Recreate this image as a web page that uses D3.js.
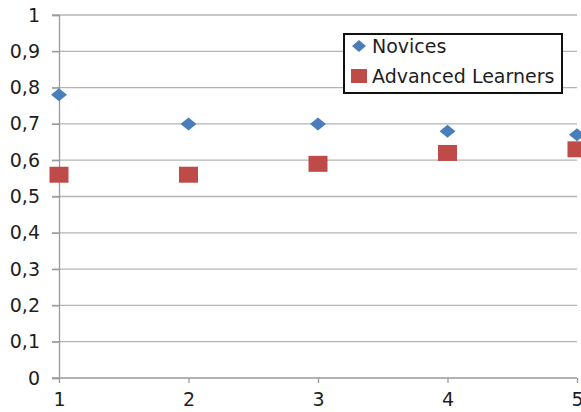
<!DOCTYPE html>
<html><head><meta charset="utf-8">
<script src="https://cdn.jsdelivr.net/npm/d3@7"></script>
<style>body{margin:0;background:#fff}svg{display:block;font-family:"DejaVu Sans",sans-serif}</style>
</head><body><svg id="c" width="581" height="412"></svg>
<script>
const categories = [1, 2, 3, 4, 5];
const novices = [0.78, 0.70, 0.70, 0.68, 0.67];
const advanced = [0.56, 0.56, 0.59, 0.62, 0.63];
const yTicks = [0, 0.1, 0.2, 0.3, 0.4, 0.5, 0.6, 0.7, 0.8, 0.9, 1];
const seriesNames = ["Novices", "Advanced Learners"];

const svg = d3.select("#c");
const x = d3.scaleLinear().domain([1, 5]).range([59, 577]);
const y = d3.scaleLinear().domain([0, 1]).range([378, 15]);
const fmt = v => String(v).replace(".", ",");
const FONT = "DejaVu Sans", FS = 19, TXT = "#1e1e1e";

// gridlines
svg.append("g").selectAll("line").data(yTicks.filter(d => d > 0)).join("line")
  .attr("x1", 52).attr("x2", 577).attr("y1", d => y(d)).attr("y2", d => y(d))
  .attr("stroke", "#b4b4b4").attr("stroke-width", 1.3);

// y axis
const ya = svg.append("g").attr("transform", `translate(${x(1)},0)`)
  .call(d3.axisLeft(y).tickValues(yTicks).tickFormat(fmt).tickSize(7).tickPadding(12));
ya.select(".domain").attr("stroke", "#9a9a9a").attr("stroke-width", 1.3);
ya.selectAll(".tick line").attr("stroke", "#9a9a9a").attr("stroke-width", 1.3);
ya.selectAll("text").attr("font-size", FS).attr("fill", TXT).attr("font-family", FONT);

// x axis
const xa = svg.append("g").attr("transform", `translate(0,${y(0)})`)
  .call(d3.axisBottom(x).tickValues(categories).tickFormat(d3.format("d")).tickSize(5).tickSizeOuter(0).tickPadding(10));
xa.select(".domain").attr("stroke", "#9a9a9a").attr("stroke-width", 1.3).attr("d", `M52,0H${x(5)}`);
xa.selectAll(".tick line").attr("stroke", "#9a9a9a").attr("stroke-width", 1.3);
xa.selectAll("text").attr("font-size", FS).attr("fill", TXT).attr("font-family", FONT);

const blue = "#4a7ebb", red = "#be4b48";
const diamondPath = (w, h) => `M0,${-h/2}L${w/2},0L0,${h/2}L${-w/2},0Z`;

svg.append("g").selectAll("rect").data(advanced).join("rect")
  .attr("x", (d, i) => x(categories[i]) - 9.5).attr("y", d => y(d) - 8)
  .attr("width", 19).attr("height", 16).attr("fill", red);

svg.append("g").selectAll("path").data(novices).join("path")
  .attr("d", diamondPath(16, 13))
  .attr("transform", (d, i) => `translate(${x(categories[i])},${y(d)})`)
  .attr("fill", blue);

// legend
const lg = svg.append("g");
lg.append("rect").attr("x", 344).attr("y", 34).attr("width", 218).attr("height", 59)
  .attr("fill", "#fff").attr("stroke", "#111").attr("stroke-width", 2);
lg.append("path").attr("d", diamondPath(14, 12))
  .attr("transform", "translate(359,46)").attr("fill", blue);
lg.append("rect").attr("x", 351).attr("y", 69).attr("width", 16).attr("height", 14).attr("fill", red);
lg.selectAll("text").data(seriesNames).join("text")
  .attr("x", 372).attr("y", (d, i) => 53 + i * 30)
  .attr("font-size", FS).attr("fill", TXT).attr("font-family", FONT).text(d => d);
</script></body></html>
